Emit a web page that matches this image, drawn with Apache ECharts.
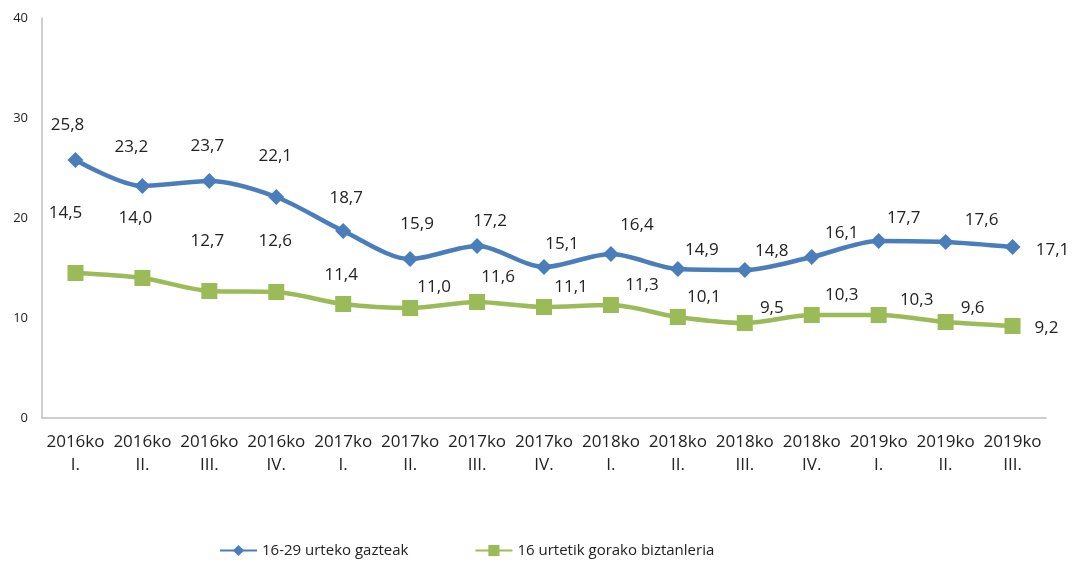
<!DOCTYPE html>
<html>
<head>
<meta charset="utf-8">
<script src="https://cdn.jsdelivr.net/npm/echarts@6/dist/echarts.min.js"></script>
<style>
  html, body { margin: 0; padding: 0; background: #fff; }
  #chart { width: 1075px; height: 564px; }
</style>
</head>
<body>
<div id="chart"></div>
<script>
const categories = [
  '2016ko\nI.', '2016ko\nII.', '2016ko\nIII.', '2016ko\nIV.',
  '2017ko\nI.', '2017ko\nII.', '2017ko\nIII.', '2017ko\nIV.',
  '2018ko\nI.', '2018ko\nII.', '2018ko\nIII.', '2018ko\nIV.',
  '2019ko\nI.', '2019ko\nII.', '2019ko\nIII.'
];
const youthName = '16-29 urteko gazteak';
const allName = '16 urtetik gorako biztanleria';
const youth = [25.8, 23.2, 23.7, 22.1, 18.7, 15.9, 17.2, 15.1, 16.4, 14.9, 14.8, 16.1, 17.7, 17.6, 17.1];
const allPop = [14.5, 14.0, 12.7, 12.6, 11.4, 11.0, 11.6, 11.1, 11.3, 10.1, 9.5, 10.3, 10.3, 9.6, 9.2];
const yTicks = { min: 0, max: 40, interval: 10 };

// where excel put each value label, relative to its marker (px)
const youthLabelShift = [
  [-8, -35], [-11, -39], [-2, -35], [-1, -41], [3, -33], [7, -35], [13, -25], [18, -23],
  [26, -29], [24, -19], [27, -19], [30, -24], [25, -23], [36, -22], [40, 3]
];
const allLabelShift = [
  [-10, -60], [-7, -60], [-2, -50], [-1, -51], [-2, -29], [24, -21], [21, -25], [27, -20],
  [31, -20], [26, -20], [27, -15], [30, -20], [38, -15], [27, -14], [34, 2]
];

const font = '"Open Sans", "Noto Sans", sans-serif';
const fmt = p => p.value.toFixed(1).replace('.', ',');

const placeLabel = shifts => params => {
  const s = shifts[params.dataIndex];
  const r = params.rect;
  return {
    x: r.x + r.width / 2 + s[0],
    y: r.y + r.height / 2 + s[1],
    align: 'center',
    verticalAlign: 'middle'
  };
};

const chart = echarts.init(document.getElementById('chart'));
chart.setOption({
  animation: false,
  textStyle: { fontFamily: font },
  grid: { left: 42, right: 29, top: 18, bottom: 146 },
  legend: {
    bottom: 1,
    left: 214,
    itemWidth: 37,
    itemHeight: 14,
    itemGap: 66,
    textStyle: { fontSize: 15, color: '#222', fontFamily: font },
    data: [youthName, allName]
  },
  xAxis: {
    type: 'category',
    data: categories,
    axisLine: { lineStyle: { color: '#bfbfbf', width: 1.5 } },
    axisTick: { show: false },
    axisLabel: { color: '#222', fontSize: 17, lineHeight: 23, margin: 13, interval: 0 }
  },
  yAxis: {
    type: 'value',
    min: yTicks.min,
    max: yTicks.max,
    interval: yTicks.interval,
    axisLine: { show: true, lineStyle: { color: '#bfbfbf', width: 1.5 } },
    axisTick: { show: false },
    splitLine: { show: false },
    axisLabel: { color: '#222', fontSize: 13, margin: 14 }
  },
  series: [
    {
      name: youthName,
      type: 'line',
      smooth: 0.3,
      symbol: 'diamond',
      symbolSize: 16,
      lineStyle: { width: 4.5, color: '#4a7ebb' },
      itemStyle: { color: '#4a7ebb' },
      label: { show: true, position: 'inside', fontSize: 17, color: '#222', formatter: fmt },
      labelLayout: placeLabel(youthLabelShift),
      data: youth
    },
    {
      name: allName,
      type: 'line',
      smooth: 0.3,
      symbol: 'rect',
      symbolSize: 16,
      lineStyle: { width: 4.5, color: '#9bbb59' },
      itemStyle: { color: '#9bbb59' },
      label: { show: true, position: 'inside', fontSize: 17, color: '#222', formatter: fmt },
      labelLayout: placeLabel(allLabelShift),
      data: allPop
    }
  ]
});
</script>
</body>
</html>
